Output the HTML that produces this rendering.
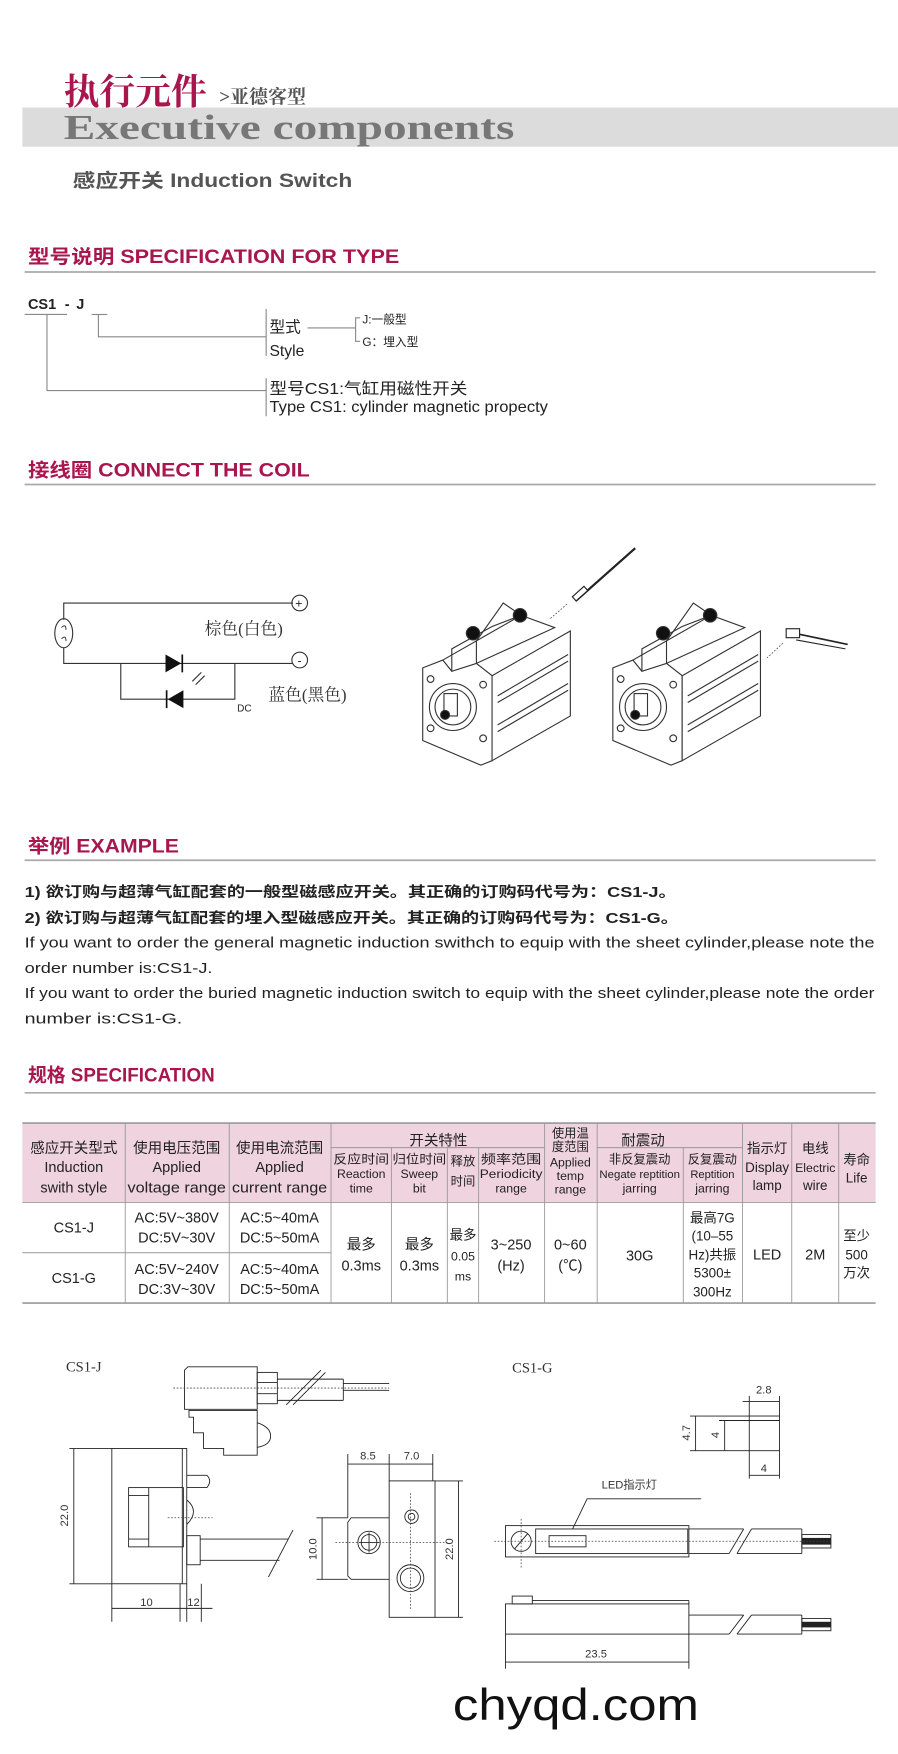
<!DOCTYPE html>
<html><head><meta charset="utf-8"><style>
html,body{margin:0;padding:0;background:#fff;}
svg{display:block;}
.s{font-family:"Liberation Sans","Noto Sans CJK SC",sans-serif;}
.sf{font-family:"Liberation Serif","Noto Serif CJK SC",serif;}
.h{font-family:"Liberation Sans","Noto Sans CJK SC",sans-serif;font-weight:bold;fill:#a8164d;font-size:17px;}
.ln{stroke:#333;stroke-width:1;fill:none;}
.thin{stroke:#222;stroke-width:0.8;fill:none;}
.dot{stroke:#444;stroke-width:0.7;stroke-dasharray:1.5 1.5;fill:none;}
</style></head><body>
<svg width="898" height="1754" viewBox="0 0 803 1568" xmlns="http://www.w3.org/2000/svg">
<rect width="803" height="1568" fill="#fff"/>
<!-- Header -->
<text x="57" y="93" class="sf" font-size="32" font-weight="bold" fill="#a8164d">执行元件</text>
<text x="196" y="92" class="sf" font-size="17" font-weight="bold" fill="#555">&gt;亚德客型</text>
<rect x="20" y="96" width="783" height="35" fill="#dcdcdc"/>
<text x="57" y="124" class="sf" font-size="31" font-weight="bold" fill="#777" textLength="403" lengthAdjust="spacingAndGlyphs">Executive components</text>
<text x="65" y="167" class="s" font-size="17" font-weight="bold" fill="#555" textLength="250" lengthAdjust="spacingAndGlyphs">感应开关 Induction Switch</text>

<!-- Spec for type -->
<text x="25" y="235" class="h" textLength="332" lengthAdjust="spacingAndGlyphs">型号说明 SPECIFICATION FOR TYPE</text>
<line x1="22" y1="243" x2="783" y2="243" stroke="#aaa" stroke-width="1.5"/>
<text x="25" y="276" class="s" font-size="13" font-weight="bold" fill="#222">CS1 <tspan dx="4">-</tspan><tspan dx="6">J</tspan></text>
<g stroke="#888" stroke-width="1" fill="none">
<line x1="22" y1="281" x2="60" y2="281"/><line x1="82" y1="281" x2="96" y2="281"/>
<polyline points="42,281 42,349 238,349"/>
<polyline points="88,281 88,301 238,301"/>
<line x1="238" y1="276" x2="238" y2="318"/>
<line x1="275" y1="293" x2="318" y2="293"/>
<polyline points="322,284 318,284 318,305 322,305"/>
<line x1="238" y1="338" x2="238" y2="372"/>
</g>
<text x="241" y="297" class="s" font-size="14" fill="#222">型式</text>
<text x="241" y="318" class="s" font-size="14" fill="#222">Style</text>
<text x="324" y="289" class="s" font-size="10.5" fill="#222">J:一般型</text>
<text x="324" y="309" class="s" font-size="10.5" fill="#222">G：埋入型</text>
<text x="241" y="352" class="s" font-size="14" fill="#222" textLength="177" lengthAdjust="spacingAndGlyphs">型号CS1:气缸用磁性开关</text>
<text x="241" y="368" class="s" font-size="14" fill="#222" textLength="249" lengthAdjust="spacingAndGlyphs">Type CS1: cylinder magnetic propecty</text>

<!-- Connect the coil -->
<text x="25" y="426" class="h" textLength="252" lengthAdjust="spacingAndGlyphs">接线圈 CONNECT THE COIL</text>
<line x1="22" y1="433" x2="783" y2="433" stroke="#aaa" stroke-width="1.5"/>
<g class="ln">
<polyline points="262,539 57,539 57,554"/>
<ellipse cx="57" cy="566" rx="8" ry="13"/>
<polyline points="57,579 57,593 262,593"/>
<polyline points="108,593 108,625 210,625 210,593"/>
<circle cx="268" cy="539" r="7"/><circle cx="268" cy="590" r="7"/>
</g>
<text x="264" y="543" class="s" font-size="11" fill="#222">+</text>
<text x="266" y="594" class="s" font-size="11" fill="#222">-</text>
<path d="M55,561 q4,-4 4,2 M55,571 q4,-4 4,2" class="thin"/>
<polygon points="148,585 148,601 162,593" fill="#111"/><line x1="163" y1="585" x2="163" y2="601" stroke="#111" stroke-width="1.5"/>
<polygon points="164,617 164,633 150,625" fill="#111"/><line x1="149" y1="617" x2="149" y2="633" stroke="#111" stroke-width="1.5"/>
<line x1="172" y1="609" x2="180" y2="601" stroke="#333"/><line x1="175" y1="612" x2="183" y2="604" stroke="#333"/>
<text x="183" y="567" class="sf" font-size="15" fill="#333">棕色(白色)</text>
<text x="240" y="626" class="sf" font-size="15" fill="#333">蓝色(黑色)</text>
<text x="212" y="636" class="s" font-size="9" fill="#222">DC</text>

<!-- Cylinders -->
<g id="cyl" class="ln" stroke-width="1.1">
<polygon points="378,597 396,590 404,600 426,593 440,604 440,680 430,684 378,662" fill="#fff"/>
<polygon points="396,590 466,550 496,561 426,593 404,600" fill="#fff"/>
<polygon points="440,604 510,564 510,640 440,680" fill="#fff"/>
<polyline points="404,600 404,580 440,560 466,550"/>
<polyline points="426,593 426,573 450,539 466,550"/>
<line x1="445" y1="622" x2="508" y2="585"/><line x1="445" y1="628" x2="508" y2="591"/>
<line x1="445" y1="648" x2="508" y2="611"/><line x1="445" y1="654" x2="508" y2="617"/>
<circle cx="405" cy="632" r="21"/><circle cx="405" cy="632" r="16"/>
<rect x="397" y="620" width="12" height="20"/>
<circle cx="398" cy="639" r="4" fill="#111"/>
<circle cx="385" cy="607" r="3"/><circle cx="432" cy="612" r="3"/><circle cx="385" cy="651" r="3"/><circle cx="432" cy="660" r="3"/>
<circle cx="465" cy="550" r="6" fill="#111"/><circle cx="423" cy="566" r="6" fill="#111"/>
</g>
<use href="#cyl" x="170" y="0"/>
<line x1="568" y1="490" x2="515" y2="537" stroke="#222" stroke-width="2"/>
<rect x="512" y="528" width="14" height="5" transform="rotate(-42 519 531)" fill="#fff" stroke="#222"/>
<line x1="507" y1="540" x2="492" y2="553" class="dot" stroke-width="1"/>
<rect x="703" y="562" width="12" height="8" fill="#fff" stroke="#222"/>
<line x1="715" y1="567" x2="758" y2="576" stroke="#222" stroke-width="1.5"/>
<line x1="712" y1="572" x2="756" y2="580" stroke="#222" stroke-width="1"/>
<line x1="700" y1="575" x2="686" y2="588" class="dot" stroke-width="1"/>

<!-- Example -->
<text x="25" y="762" class="h" textLength="135" lengthAdjust="spacingAndGlyphs">举例 EXAMPLE</text>
<line x1="22" y1="769" x2="783" y2="769" stroke="#aaa" stroke-width="1.5"/>
<g class="s" font-size="13" fill="#222">
<text x="22" y="802" font-weight="bold" textLength="583" lengthAdjust="spacingAndGlyphs">1) 欲订购与超薄气缸配套的一般型磁感应开关。其正确的订购码代号为：CS1-J。</text>
<text x="22" y="825" font-weight="bold" textLength="585" lengthAdjust="spacingAndGlyphs">2) 欲订购与超薄气缸配套的埋入型磁感应开关。其正确的订购码代号为：CS1-G。</text>
<text x="22" y="847" textLength="760" lengthAdjust="spacingAndGlyphs">If you want to order the general magnetic induction swithch to equip with the sheet cylinder,please note the</text>
<text x="22" y="870" textLength="168" lengthAdjust="spacingAndGlyphs">order number is:CS1-J.</text>
<text x="22" y="892" textLength="760" lengthAdjust="spacingAndGlyphs">If you want to order the buried magnetic induction switch to equip with the sheet cylinder,please note the order</text>
<text x="22" y="915" textLength="141" lengthAdjust="spacingAndGlyphs">number is:CS1-G.</text>
</g>

<!-- Specification -->
<text x="25" y="967" class="h" textLength="167" lengthAdjust="spacingAndGlyphs">规格 SPECIFICATION</text>
<line x1="22" y1="977" x2="783" y2="977" stroke="#aaa" stroke-width="1.5"/>
<rect x="20" y="1004" width="763" height="71" fill="#efd3de"/>
<g stroke="#999" stroke-width="0.8" fill="none">
<line x1="20" y1="1004" x2="783" y2="1004" stroke-width="1.5"/>
<line x1="20" y1="1165" x2="783" y2="1165" stroke-width="1.5"/>
<line x1="20" y1="1075" x2="783" y2="1075"/>
<line x1="296" y1="1026" x2="487" y2="1026"/><line x1="534" y1="1026" x2="664" y2="1026"/>
<line x1="20" y1="1120" x2="296" y2="1120"/>
<line x1="112" y1="1004" x2="112" y2="1165"/><line x1="205" y1="1004" x2="205" y2="1165"/>
<line x1="296" y1="1004" x2="296" y2="1165"/><line x1="350" y1="1026" x2="350" y2="1165"/>
<line x1="400" y1="1026" x2="400" y2="1165"/><line x1="428" y1="1026" x2="428" y2="1165"/>
<line x1="487" y1="1004" x2="487" y2="1165"/><line x1="534" y1="1004" x2="534" y2="1165"/>
<line x1="611" y1="1026" x2="611" y2="1165"/><line x1="664" y1="1004" x2="664" y2="1165"/>
<line x1="708" y1="1004" x2="708" y2="1165"/><line x1="750" y1="1004" x2="750" y2="1165"/>
</g>
<g class="s" fill="#222" text-anchor="middle" font-size="13">
<text x="66" y="1031">感应开关型式</text><text x="66" y="1048">Induction</text><text x="66" y="1066">swith style</text>
<text x="158" y="1031">使用电压范围</text><text x="158" y="1048">Applied</text><text x="158" y="1066" textLength="88" lengthAdjust="spacingAndGlyphs">voltage range</text>
<text x="250" y="1031">使用电流范围</text><text x="250" y="1048">Applied</text><text x="250" y="1066" textLength="85" lengthAdjust="spacingAndGlyphs">current range</text>
<text x="392" y="1024">开关特性</text>
<text x="575" y="1024">耐震动</text>
<g font-size="11">
<text x="323" y="1040" textLength="50" lengthAdjust="spacingAndGlyphs">反应时间</text><text x="323" y="1053">Reaction</text><text x="323" y="1066">time</text>
<text x="375" y="1040" textLength="48" lengthAdjust="spacingAndGlyphs">归位时间</text><text x="375" y="1053">Sweep</text><text x="375" y="1066">bit</text>
<text x="414" y="1042">释放</text><text x="414" y="1060">时间</text>
<text x="457" y="1040" textLength="54" lengthAdjust="spacingAndGlyphs">频率范围</text><text x="457" y="1053" textLength="56" lengthAdjust="spacingAndGlyphs">Periodicity</text><text x="457" y="1066">range</text>
<text x="510" y="1017">使用温</text><text x="510" y="1029">度范围</text><text x="510" y="1043">Applied</text><text x="510" y="1055">temp</text><text x="510" y="1067">range</text>
<text x="572" y="1040">非反复震动</text><text x="572" y="1053" font-size="9.5" textLength="72" lengthAdjust="spacingAndGlyphs">Negate reptition</text><text x="572" y="1066">jarring</text>
<text x="637" y="1040">反复震动</text><text x="637" y="1053" font-size="10">Reptition</text><text x="637" y="1066">jarring</text>
<text x="686" y="1031" font-size="12">指示灯</text><text x="686" y="1048" font-size="12">Display</text><text x="686" y="1064" font-size="12">lamp</text>
<text x="729" y="1031" font-size="12">电线</text><text x="729" y="1048">Electric</text><text x="729" y="1064" font-size="12">wire</text>
<text x="766" y="1041" font-size="12">寿命</text><text x="766" y="1057" font-size="12">Life</text>
</g>
<text x="66" y="1102">CS1-J</text><text x="66" y="1147">CS1-G</text>
<text x="158" y="1093">AC:5V~380V</text><text x="158" y="1111">DC:5V~30V</text>
<text x="158" y="1139">AC:5V~240V</text><text x="158" y="1157">DC:3V~30V</text>
<text x="250" y="1093">AC:5~40mA</text><text x="250" y="1111">DC:5~50mA</text>
<text x="250" y="1139">AC:5~40mA</text><text x="250" y="1157">DC:5~50mA</text>
<text x="323" y="1117">最多</text><text x="323" y="1136">0.3ms</text>
<text x="375" y="1117">最多</text><text x="375" y="1136">0.3ms</text>
<text x="414" y="1108" font-size="12">最多</text><text x="414" y="1127" font-size="11">0.05</text><text x="414" y="1145" font-size="11">ms</text>
<text x="457" y="1117">3~250</text><text x="457" y="1136">(Hz)</text>
<text x="510" y="1117">0~60</text><text x="510" y="1136">(℃)</text>
<text x="572" y="1127">30G</text>
<g font-size="12"><text x="637" y="1093">最高7G</text><text x="637" y="1109">(10–55</text><text x="637" y="1126">Hz)共振</text><text x="637" y="1142">5300±</text><text x="637" y="1159">300Hz</text></g>
<text x="686" y="1126">LED</text><text x="729" y="1126">2M</text>
<g font-size="12"><text x="766" y="1109">至少</text><text x="766" y="1126">500</text><text x="766" y="1142">万次</text></g>
</g>

<!-- Drawings CS1-J -->
<text x="59" y="1226" class="sf" font-size="13" fill="#333">CS1-J</text>
<text x="458" y="1227" class="sf" font-size="13" fill="#333">CS1-G</text>
<g class="thin">
<path d="M168,1222 h62 v38 h-65 v-35 z"/>
<rect x="230" y="1227" width="18" height="28"/><line x1="230" y1="1236" x2="248" y2="1236"/><line x1="230" y1="1246" x2="248" y2="1246"/>
<line x1="248" y1="1233" x2="307" y2="1233"/><line x1="248" y1="1252" x2="307" y2="1252"/><line x1="307" y1="1233" x2="307" y2="1252"/>
<line x1="256" y1="1256" x2="287" y2="1225"/><line x1="262" y1="1256" x2="291" y2="1227"/>
<line x1="307" y1="1237" x2="348" y2="1237"/><line x1="307" y1="1243" x2="348" y2="1243"/>
<path d="M169,1261 h61 v40 h-30 v-6 h-18 v-14 h-9 v-14 h-4 z"/>
<path d="M230,1272 q12,4 12,12 q0,8 -12,10"/>
<rect x="100" y="1295" width="67" height="121"/>
<rect x="115" y="1330" width="49" height="53"/><line x1="115" y1="1337" x2="133" y2="1337"/><line x1="115" y1="1376" x2="133" y2="1376"/><line x1="133" y1="1330" x2="133" y2="1383"/>
<line x1="163" y1="1295" x2="163" y2="1416"/>
<path d="M167,1319 h18 q5,5 0,11 h-18"/>
<path d="M167,1341 q12,10 0,22"/>
<rect x="167" y="1373" width="12" height="26"/>
<line x1="179" y1="1376" x2="258" y2="1376"/><line x1="179" y1="1395" x2="250" y2="1395"/>
<line x1="262" y1="1368" x2="240" y2="1410"/>
<line x1="66" y1="1295" x2="66" y2="1416"/><line x1="62" y1="1295" x2="100" y2="1295"/><line x1="62" y1="1416" x2="100" y2="1416"/>
<line x1="100" y1="1416" x2="100" y2="1450"/><line x1="161" y1="1416" x2="161" y2="1450"/><line x1="167" y1="1416" x2="167" y2="1450"/><line x1="180" y1="1416" x2="180" y2="1450"/>
<line x1="100" y1="1438" x2="190" y2="1438"/>
<!-- front view -->
<rect x="348" y="1324" width="41" height="122"/>
<path d="M348,1357 h-34 l-3,4 v48 l3,3 h34"/>
<circle cx="330" cy="1379" r="10"/><circle cx="330" cy="1379" r="7"/><line x1="330" y1="1370" x2="330" y2="1388"/><line x1="321" y1="1379" x2="339" y2="1379"/>
<circle cx="368" cy="1356" r="6"/><circle cx="368" cy="1356" r="3"/>
<circle cx="367" cy="1411" r="12"/><circle cx="367" cy="1411" r="9"/>
<line x1="311" y1="1300" x2="311" y2="1357"/><line x1="348" y1="1300" x2="348" y2="1324"/><line x1="387" y1="1300" x2="387" y2="1324"/>
<line x1="311" y1="1309" x2="387" y2="1309"/>
<line x1="389" y1="1324" x2="414" y2="1324"/><line x1="389" y1="1446" x2="414" y2="1446"/><line x1="410" y1="1324" x2="410" y2="1446"/>
<line x1="283" y1="1357" x2="311" y2="1357"/><line x1="283" y1="1412" x2="311" y2="1412"/><line x1="288" y1="1357" x2="288" y2="1412"/>
<!-- CS1-G block -->
<rect x="670" y="1266" width="27" height="31"/><line x1="670" y1="1270" x2="697" y2="1270"/>
<line x1="670" y1="1248" x2="670" y2="1266"/><line x1="697" y1="1248" x2="697" y2="1266"/><line x1="664" y1="1253" x2="697" y2="1253"/>
<line x1="617" y1="1266" x2="670" y2="1266"/><line x1="617" y1="1297" x2="670" y2="1297"/><line x1="622" y1="1266" x2="622" y2="1297"/>
<line x1="643" y1="1270" x2="670" y2="1270"/><line x1="648" y1="1270" x2="648" y2="1297"/>
<line x1="670" y1="1297" x2="670" y2="1322"/><line x1="697" y1="1297" x2="697" y2="1322"/><line x1="670" y1="1319" x2="697" y2="1319"/>
<!-- CS1-G top view -->
<polyline points="627,1340 525,1340 512,1367"/>
<rect x="452" y="1364" width="164" height="28"/>
<rect x="479" y="1367" width="136" height="22"/>
<rect x="491" y="1373" width="33" height="10"/>
<circle cx="466" cy="1378" r="9"/><line x1="460" y1="1385" x2="472" y2="1371"/>
<line x1="616" y1="1367" x2="665" y2="1367"/><line x1="616" y1="1389" x2="652" y2="1389"/>
<line x1="665" y1="1367" x2="652" y2="1389"/><line x1="672" y1="1367" x2="659" y2="1389"/>
<line x1="672" y1="1367" x2="717" y2="1367"/><line x1="659" y1="1389" x2="717" y2="1389"/><line x1="717" y1="1367" x2="717" y2="1389"/>
<rect x="717" y="1372" width="26" height="12"/>
<!-- CS1-G side view -->
<rect x="452" y="1434" width="164" height="27"/>
<rect x="458" y="1427" width="18" height="7"/><line x1="476" y1="1431" x2="616" y2="1431"/><line x1="616" y1="1431" x2="616" y2="1434"/>
<line x1="616" y1="1444" x2="665" y2="1444"/><line x1="616" y1="1461" x2="652" y2="1461"/>
<line x1="665" y1="1444" x2="652" y2="1461"/><line x1="672" y1="1444" x2="659" y2="1461"/>
<line x1="672" y1="1444" x2="717" y2="1444"/><line x1="659" y1="1461" x2="717" y2="1461"/><line x1="717" y1="1444" x2="717" y2="1461"/>
<rect x="717" y="1447" width="26" height="11"/>
<line x1="452" y1="1461" x2="452" y2="1492"/><line x1="616" y1="1461" x2="616" y2="1492"/><line x1="452" y1="1486" x2="616" y2="1486"/>
</g>
<rect x="717" y="1375" width="26" height="6" fill="#222"/><rect x="717" y="1450" width="26" height="5" fill="#222"/>
<g class="dot"><line x1="155" y1="1241" x2="348" y2="1241"/><line x1="150" y1="1357" x2="190" y2="1357"/><line x1="300" y1="1379" x2="400" y2="1379"/><line x1="367" y1="1335" x2="367" y2="1440"/><line x1="442" y1="1378" x2="745" y2="1378"/><line x1="466" y1="1358" x2="466" y2="1402"/></g>
<g class="s" font-size="10" fill="#333" text-anchor="middle">
<text x="131" y="1436">10</text><text x="173" y="1436">12</text>
<text x="329" y="1305">8.5</text><text x="368" y="1305">7.0</text>
<text x="61" y="1355" transform="rotate(-90 61 1355)">22.0</text>
<text x="405" y="1385" transform="rotate(-90 405 1385)">22.0</text>
<text x="283" y="1385" transform="rotate(-90 283 1385)">10.0</text>
<text x="683" y="1246">2.8</text><text x="683" y="1316">4</text>
<text x="617" y="1281" transform="rotate(-90 617 1281)">4.7</text>
<text x="643" y="1283" transform="rotate(-90 643 1283)">4</text>
<text x="533" y="1482">23.5</text>
</g>
<text x="538" y="1331" class="s" font-size="10" fill="#333">LED指示灯</text>
<text x="405" y="1538" class="s" font-size="40" fill="#111" textLength="220" lengthAdjust="spacingAndGlyphs">chyqd.com</text>
</svg>
</body></html>
